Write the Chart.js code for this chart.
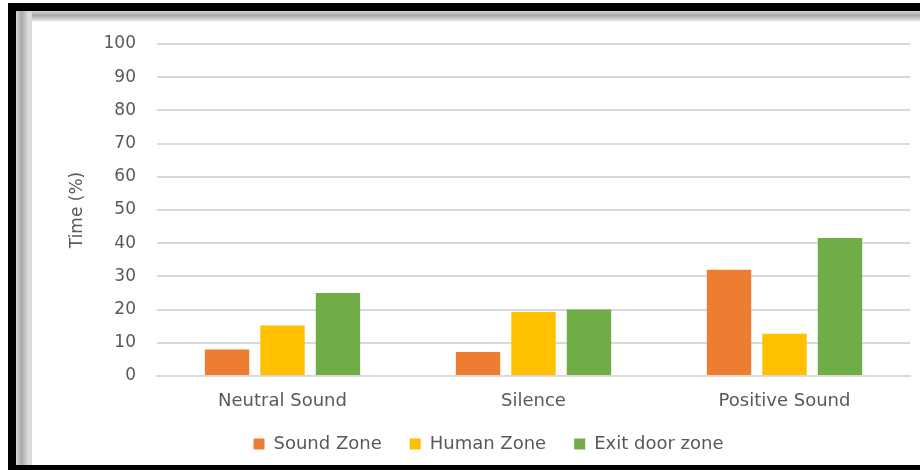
<!DOCTYPE html>
<html>
<head>
<meta charset="utf-8">
<script src="https://cdn.jsdelivr.net/npm/chart.js@4.4.1/dist/chart.umd.min.js"></script>
<style>
    html, body { margin: 0; padding: 0; background: #fff; }
    .wrap { position: relative; width: 920px; height: 470px; overflow: hidden; }
    .frame {
        position: absolute; left: 8px; top: 3px; width: 940px; height: 467px;
        border-top: 8px solid #000; border-left: 8px solid #000; border-bottom: 5px solid #000;
        box-sizing: border-box;
    }
    .shade-top {
        position: absolute; left: 16px; top: 11px; width: 920px; height: 11px;
        background: linear-gradient(to bottom, #d4d4d4, #a9a9a9 40%, #e6e6e6 90%, #fff);
    }
    .shade-left {
        position: absolute; left: 16px; top: 11px; width: 16px; height: 454px;
        background: linear-gradient(to right, #d4d4d4, #a9a9a9 35%, #e6e6e6 85%, #c8c8c8 95%, #fff);
    }
    canvas { position: absolute; left: 0; top: 0; }
</style>
</head>
<body>
<div class="wrap">
    <div class="frame"></div>
    <div class="shade-top"></div>
    <div class="shade-left"></div>
    <canvas id="zoneChart" width="920" height="470"></canvas>
</div>
<script>
    // chart data
    const categories = ['Neutral Sound', 'Silence', 'Positive Sound'];
    const soundZone = [8, 7.2, 32];
    const humanZone = [15.2, 19.3, 12.7];
    const exitDoorZone = [25, 20, 41.6];
    const yTicks = [0, 10, 20, 30, 40, 50, 60, 70, 80, 90, 100];

    const textGrey = '#595959';
    const fontFamily = "'DejaVu Sans', sans-serif";

    new Chart(document.getElementById('zoneChart'), {
        type: 'bar',
        data: {
            labels: categories,
            datasets: [
                { label: 'Sound Zone', data: soundZone, backgroundColor: '#ED7D31' },
                { label: 'Human Zone', data: humanZone, backgroundColor: '#FFC000' },
                { label: 'Exit door zone', data: exitDoorZone, backgroundColor: '#70AD47' }
            ]
        },
        options: {
            responsive: false,
            animation: false,
            devicePixelRatio: 1,
            layout: { padding: { top: 44, right: 10, bottom: 7, left: 67 } },
            datasets: {
                bar: { categoryPercentage: 0.663, barPercentage: 0.8 }
            },
            plugins: {
                tooltip: { enabled: false },
                legend: {
                    position: 'bottom',
                    labels: {
                        boxWidth: 11,
                        boxHeight: 11,
                        padding: 28,
                        color: textGrey,
                        font: { family: fontFamily, size: 18 }
                    }
                }
            },
            scales: {
                x: {
                    grid: { display: false, drawTicks: false },
                    border: { color: '#d9d9d9', width: 2 },
                    ticks: { color: textGrey, padding: 15, font: { family: fontFamily, size: 18 } },
                    afterFit: (scale) => { scale.height = 31; }
                },
                y: {
                    min: 0,
                    max: 100,
                    afterBuildTicks: (scale) => { scale.ticks = yTicks.map(v => ({ value: v })); },
                    grid: { color: '#d9d9d9', lineWidth: 2, drawTicks: false },
                    border: { display: false },
                    ticks: { color: textGrey, padding: 21, font: { family: fontFamily, size: 17 } },
                    title: {
                        display: true,
                        text: 'Time (%)',
                        color: textGrey,
                        padding: { top: 0, bottom: 0 },
                        font: { family: fontFamily, size: 17 }
                    },
                    afterFit: (scale) => { scale.width = 157 - 67; }
                }
            }
        }
    });
</script>
</body>
</html>
